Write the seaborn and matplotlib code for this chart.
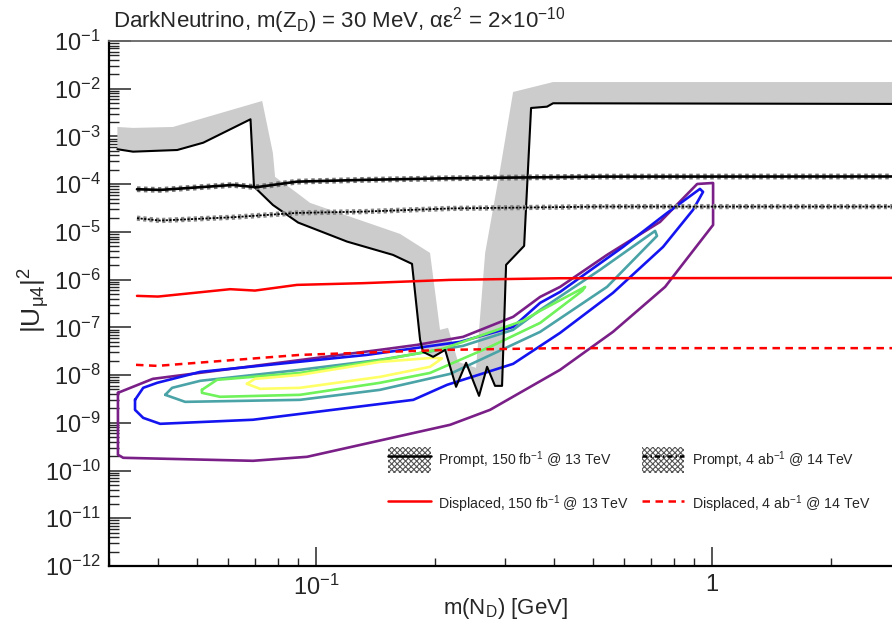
import numpy as np
import matplotlib
matplotlib.use('Agg')
import matplotlib.pyplot as plt
import seaborn as sns
from matplotlib.patches import Patch
from matplotlib.lines import Line2D
from matplotlib.ticker import LogLocator, NullFormatter, FixedLocator, FixedFormatter

sns.set_style('ticks')
plt.rcParams['font.family'] = ['Liberation Sans', 'DejaVu Sans']
plt.rcParams['mathtext.fontset'] = 'custom'
plt.rcParams['mathtext.rm'] = 'Liberation Sans'
plt.rcParams['mathtext.it'] = 'Liberation Sans:italic'
plt.rcParams['mathtext.default'] = 'regular'
plt.rcParams['hatch.linewidth'] = 0.8

# --- data (m in GeV, |U|^2) ---
prompt150_m = [0.0315, 0.0345, 0.0446, 0.0519, 0.0683, 0.0697, 0.0778, 0.0901, 0.1198, 0.1564,
               0.1747, 0.1831, 0.1863, 0.1975, 0.2056, 0.2118, 0.2257, 0.2393, 0.2580, 0.2703,
               0.2831, 0.2949, 0.3019, 0.3353, 0.3491, 0.3831, 0.3968, 3.0]
prompt150_u = [5.4e-4, 4.8e-4, 5.2e-4, 7.4e-4, 2.29e-3, 8.9e-5, 3.67e-5, 1.57e-5, 6.26e-6, 3.30e-6,
               2.14e-6, 5.47e-8, 3.07e-8, 2.41e-8, 2.92e-8, 3.38e-8, 5.68e-9, 1.81e-8, 3.67e-9, 1.49e-8,
               5.95e-9, 5.95e-9, 2.04e-6, 5.09e-6, 3.95e-3, 4.21e-3, 4.96e-3, 4.8e-3]

# outer edge of the grey exclusion band drawn next to the 150 fb-1 prompt line
band_m = [0.0315, 0.0345, 0.0435, 0.0731, 0.0778, 0.0788, 0.0895, 0.0966, 0.163, 0.194,
          0.2056, 0.2154, 0.2284, 0.2535, 0.2673, 0.2915, 0.3145, 0.3968, 3.0]
band_u = [1.58e-3, 1.51e-3, 1.58e-3, 5.54e-3, 4.51e-4, 1.42e-4, 6.56e-5, 4.05e-5, 9.08e-6, 3.63e-6,
          8.87e-8, 9.77e-8, 1.89e-8, 1.42e-8, 3.63e-6, 1.99e-4, 8.55e-3, 1.38e-2, 1.38e-2]

prompt4ab_m = [0.0353, 0.0404, 0.0617, 0.0706, 0.0895, 0.1315, 0.218, 0.521, 3.0]
prompt4ab_u = [7.84e-5, 7.58e-5, 9.64e-5, 8.63e-5, 1.13e-4, 1.23e-4, 1.33e-4, 1.44e-4, 1.45e-4]
prompt4ab_b_m = [0.0353, 0.0404, 0.0617, 0.0895, 0.1315, 0.218, 0.521, 3.0]
prompt4ab_b_u = [1.94e-5, 1.73e-5, 2.03e-5, 2.50e-5, 2.66e-5, 3.10e-5, 3.39e-5, 3.39e-5]

displ150_m = [0.0353, 0.0399, 0.0607, 0.0701, 0.0895, 0.1315, 0.218, 0.4133, 3.0]
displ150_u = [4.57e-7, 4.42e-7, 6.31e-7, 5.90e-7, 7.76e-7, 8.43e-7, 9.88e-7, 1.07e-6, 1.09e-6]
displ4ab_m = [0.0351, 0.0397, 0.0911, 0.2142, 0.4133, 3.0]
displ4ab_u = [1.64e-8, 1.56e-8, 2.65e-8, 3.38e-8, 3.67e-8, 3.67e-8]

# signal contours (outer -> inner)
purple_m = [0.0316, 0.0316, 0.0326, 0.0693, 0.0949, 0.218, 0.275, 0.4133, 0.562, 0.761, 1.006,
            1.006, 0.917, 0.739, 0.543, 0.4133, 0.368, 0.3145, 0.235, 0.180, 0.145, 0.0387]
purple_u = [4.25e-9, 2.14e-10, 1.85e-10, 1.60e-10, 1.94e-10, 9.08e-10, 1.87e-9, 1.29e-8, 8.05e-8,
            7.05e-7, 1.40e-5, 1.06e-4, 1.01e-4, 1.62e-5, 3.30e-6, 7.05e-7, 4.35e-7, 1.66e-7, 6.32e-8,
            4.30e-8, 3.38e-8, 8.34e-9]
blue_m = [0.0349, 0.0366, 0.0397, 0.051, 0.1345, 0.231, 0.3145, 0.368, 0.4133, 0.596, 0.770, 0.932,
          0.949, 0.895, 0.752, 0.562, 0.4133, 0.3145, 0.2142, 0.176, 0.0693, 0.0404, 0.0366, 0.0349]
blue_u = [3.03e-9, 5.41e-9, 6.89e-9, 1.17e-8, 2.65e-8, 4.97e-8, 1.02e-7, 3.26e-7, 5.54e-7, 4.85e-6,
          2.50e-5, 7.96e-5, 6.89e-5, 2.89e-5, 4.85e-6, 5.28e-7, 7.67e-8, 1.72e-8, 6.25e-9, 3.03e-9,
          1.16e-9, 9.53e-10, 1.27e-9, 1.87e-9]
teal_m = [0.0416, 0.0433, 0.051, 0.0911, 0.145, 0.235, 0.3145, 0.368, 0.521, 0.718, 0.726, 0.543,
          0.368, 0.218, 0.145, 0.0911, 0.0467]
teal_u = [3.86e-9, 5.41e-9, 7.59e-9, 1.29e-8, 2.09e-8, 4.10e-8, 8.87e-8, 2.32e-7, 1.60e-6, 1.05e-5,
          8.24e-6, 7.05e-7, 8.05e-8, 1.06e-8, 4.91e-9, 3.03e-9, 2.75e-9]
green_m = [0.0515, 0.0562, 0.0911, 0.145, 0.209, 0.333, 0.368, 0.478, 0.470, 0.368, 0.275, 0.194,
           0.145, 0.0911, 0.0572, 0.0515]
green_u = [4.91e-9, 7.96e-9, 1.11e-8, 2.04e-8, 3.55e-8, 1.37e-7, 2.22e-7, 7.05e-7, 5.81e-7, 1.24e-7,
           3.91e-8, 1.11e-8, 6.89e-9, 3.86e-9, 3.51e-9, 4.25e-9]
yellow_m = [0.0669, 0.0701, 0.0911, 0.145, 0.1975, 0.208, 0.194, 0.145, 0.0911, 0.0722]
yellow_u = [6.56e-9, 8.34e-9, 1.01e-8, 1.89e-8, 2.30e-8, 2.24e-8, 1.49e-8, 9.18e-9, 5.41e-9, 5.15e-9]

contours = [
    (purple_m, purple_u, '#7a1f87'),
    (blue_m, blue_u, '#1414f0'),
    (teal_m, teal_u, '#4aa3a6'),
    (green_m, green_u, '#6ff25a'),
    (yellow_m, yellow_u, '#ffff66'),
]

x_ticks = [0.1, 1.0]
x_ticklabels = ['10$^{-1}$', '1']

legend_labels = ['Prompt, 150 fb$^{-1}$ @ 13 TeV', 'Prompt, 4 ab$^{-1}$ @ 14 TeV',
                 'Displaced, 150 fb$^{-1}$ @ 13 TeV', 'Displaced, 4 ab$^{-1}$ @ 14 TeV']

W, H = 892, 632
fig = plt.figure(figsize=(W / 100, H / 100), dpi=100)
ax = fig.add_axes([109 / W, (H - 566) / H, 792 / W, 525 / H])
ax.set_xscale('log')
ax.set_yscale('log')


def line(xs, ys, **kw):
    sns.lineplot(x=xs, y=ys, sort=False, estimator=None, ax=ax, legend=False, **kw)


# grey band: outer edge followed by the line itself, reversed
ax.fill(np.concatenate([band_m, prompt150_m[::-1]]),
        np.concatenate([band_u, prompt150_u[::-1]]),
        color='#cccccc', lw=0, zorder=1)

for xs, ys, c in contours:
    line(list(xs) + [xs[0]], list(ys) + [ys[0]], color=c, lw=1.9, zorder=3)

line(prompt150_m, prompt150_u, color='black', lw=1.5, zorder=4)
# 4 ab-1 prompt curves with hatched edge
line(prompt4ab_m, prompt4ab_u, color='#777777', lw=4.2, linestyle=(0, (0.6, 0.6)), zorder=4)
line(prompt4ab_m, prompt4ab_u, color='black', lw=1.9, zorder=4)
line(prompt4ab_b_m, prompt4ab_b_u, color='#888888', lw=3.8, linestyle=(0, (0.6, 0.6)), zorder=4)
line(prompt4ab_b_m, prompt4ab_b_u, color='black', lw=1.3, linestyle=(0, (1.2, 0.8)), zorder=4)

line(displ150_m, displ150_u, color='#ff0000', lw=1.8, zorder=5)
line(displ4ab_m, displ4ab_u, color='#ff0000', lw=1.8, linestyle=(0, (3, 2.2)), zorder=5)

ax.set_xlim(0.03, 3.0)
ax.set_ylim(1e-12, 1e-1)
ax.set_xlabel('')
ax.set_ylabel('')

ax.yaxis.set_major_locator(LogLocator(base=10, numticks=30))
ax.yaxis.set_minor_locator(LogLocator(base=10, subs=np.arange(2, 10), numticks=300))
ax.yaxis.set_minor_formatter(NullFormatter())
ax.xaxis.set_major_locator(FixedLocator(x_ticks))
ax.xaxis.set_major_formatter(FixedFormatter(x_ticklabels))
ax.xaxis.set_minor_formatter(NullFormatter())

ax.tick_params(axis='y', which='major', direction='in', length=16, width=1.1, labelsize=17, pad=6)
ax.tick_params(axis='y', which='minor', direction='in', length=7.5, width=1.0)
ax.tick_params(axis='x', which='major', direction='in', length=14, width=1.1, labelsize=17, pad=6)
ax.tick_params(axis='x', which='minor', direction='in', length=5.5, width=1.0)

for s in ['left', 'bottom']:
    ax.spines[s].set_linewidth(1.6)
    ax.spines[s].set_color('black')
ax.spines['top'].set_color('#666666')
ax.spines['top'].set_linewidth(1.3)
ax.spines['right'].set_visible(False)

fig.text(113 / W, 1 - 27 / H, r'DarkNeutrino, m(Z$_{D}$) = 30 MeV, $\alpha\varepsilon^{2}$ = 2$\times$10$^{-10}$',
         fontsize=16, ha='left', va='baseline')
fig.text(505 / W, 1 - 614 / H, 'm(N$_{D}$) [GeV]', fontsize=16, ha='center', va='baseline')
fig.text(34 / W, 1 - 300 / H, r'|U$_{\mu4}$|$^{2}$', fontsize=19, ha='center', va='center', rotation=90)

hatch_box = dict(facecolor='white', edgecolor='#555555', hatch='xxxxxx', lw=0)
handles = [
    (Patch(**hatch_box), Line2D([], [], color='black', lw=1.8)),
    Line2D([], [], color='#ff0000', lw=1.8),
    (Patch(**hatch_box), Line2D([], [], color='black', lw=1.8, linestyle=(0, (2, 1.2, 0.6, 1.2)))),
    Line2D([], [], color='#ff0000', lw=1.8, linestyle=(0, (3, 2.2))),
]
labels = [legend_labels[0], legend_labels[2], legend_labels[1], legend_labels[3]]
ax.legend(handles, labels, ncol=2, loc='upper left', bbox_to_anchor=(388 / W, 1 - 447 / H),
          bbox_transform=fig.transFigure, frameon=False, fontsize=10.2, handlelength=3.0,
          handleheight=2.5, labelspacing=1.3, columnspacing=0.9, handletextpad=0.55,
          borderpad=0, borderaxespad=0)

fig.savefig('out.png', dpi=100)
